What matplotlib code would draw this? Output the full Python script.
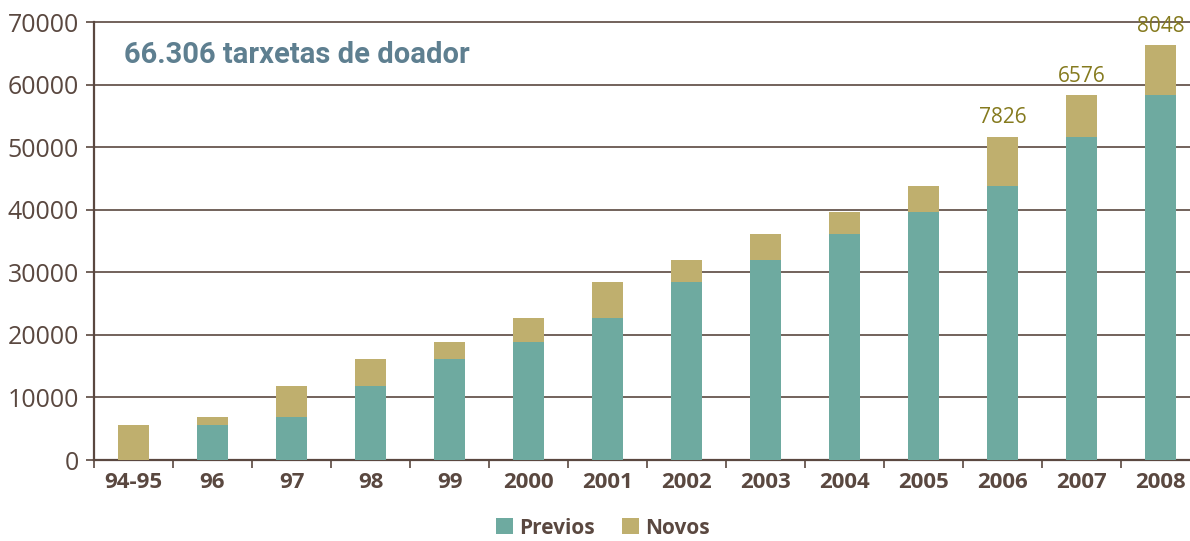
import matplotlib
matplotlib.use("Agg")
import matplotlib.pyplot as plt
import numpy as np

CATEGORIES = ["94-95", "96", "97", "98", "99", "2000", "2001", "2002",
              "2003", "2004", "2005", "2006", "2007", "2008"]
PREVIOS = [0, 5600, 6870, 11800, 16100, 18900, 22700, 28400,
           32000, 36100, 39600, 43856, 51682, 58258]
NOVOS = [5600, 1270, 4930, 4300, 2800, 3800, 5700, 3600,
         4100, 3500, 4256, 7826, 6576, 8048]
LABELLED = ["2006", "2007", "2008"]
TITLE = "66.306 tarxetas de doador"

TEAL = "#6eaaa0"
TAN = "#bfaf6e"
BROWN = "#5a4840"
OLIVE = "#857a1e"
STEEL = "#5e7f90"

plt.rcParams["font.family"] = ["Open Sans", "DejaVu Sans"]

fig = plt.figure(figsize=(11.9, 5.41), dpi=100)
ax = fig.add_axes([94 / 1190, 81 / 541, 1106 / 1190, 438 / 541])

x = np.arange(len(CATEGORIES))
ax.bar(x, PREVIOS, width=0.405, color=TEAL, zorder=3, label="Previos")
ax.bar(x, NOVOS, width=0.405, bottom=PREVIOS, color=TAN, zorder=3, label="Novos")

# new cards for the last three years
for i, cat in enumerate(CATEGORIES):
    if cat in LABELLED:
        ax.annotate(f"{NOVOS[i]}", (x[i], PREVIOS[i] + NOVOS[i]),
                    xytext=(0, 6), textcoords="offset points",
                    ha="center", va="bottom", fontsize=15, color=OLIVE, zorder=4)

ax.set_xlim(-0.5, len(CATEGORIES) - 0.5)
ax.set_ylim(0, 70000)
ax.set_yticks(np.arange(0, 70001, 10000))
ax.yaxis.grid(True, color=BROWN, linewidth=1.2, zorder=1)
for gl in ax.get_ygridlines():
    gl.set_clip_on(False)

ax.set_xticks(x)
ax.set_xticklabels(CATEGORIES, fontsize=16, fontweight="bold", color=BROWN)
ax.set_xticks(np.arange(-0.5, len(CATEGORIES), 1), minor=True)
ax.tick_params(axis="x", which="major", length=0, pad=9)
ax.tick_params(axis="x", which="minor", length=6, width=1.2, color=BROWN)
ax.tick_params(axis="y", length=6, width=1.2, color=BROWN, labelsize=18,
               labelcolor=BROWN, pad=5)

for side in ("top", "right"):
    ax.spines[side].set_visible(False)
ax.spines["left"].set_color(BROWN)
ax.spines["left"].set_linewidth(1.6)
ax.spines["bottom"].set_color(BROWN)
ax.spines["bottom"].set_linewidth(1.6)

ax.text(30 / 1106, 0.925, TITLE, transform=ax.transAxes,
        family=["Roboto", "DejaVu Sans"],
        fontsize=21, fontweight="bold", color=STEEL, va="center", ha="left")

fig.legend(loc="center", bbox_to_anchor=(603 / 1190, 13 / 541), ncol=2,
           frameon=False, prop={"weight": "bold", "size": 15},
           handlelength=0.8, handleheight=0.8, handletextpad=0.3,
           columnspacing=1.3, labelcolor=BROWN, borderpad=0.2)

fig.savefig("out.png", dpi=100)
